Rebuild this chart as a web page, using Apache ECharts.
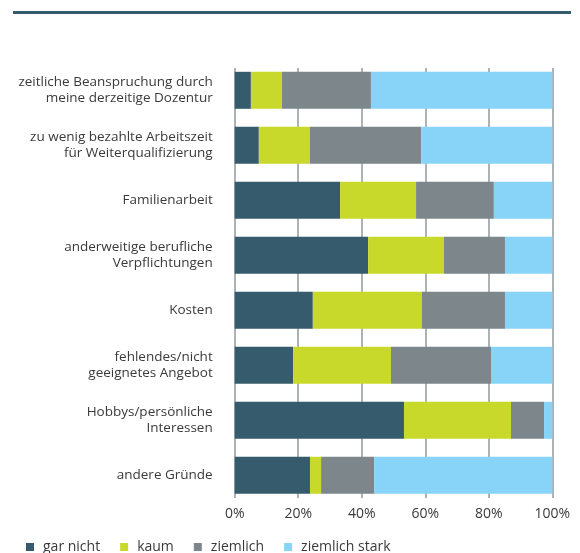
<!DOCTYPE html>
<html>
<head>
<meta charset="utf-8">
<script src="https://cdn.jsdelivr.net/npm/echarts@6/dist/echarts.min.js"></script>
<style>
  html, body { margin: 0; padding: 0; background: #ffffff; }
  #chart { width: 580px; height: 553px; }
</style>
</head>
<body>
<div id="chart"></div>
<script>
// Reasons, top to bottom
const categories = [
  'zeitliche Beanspruchung durch\nmeine derzeitige Dozentur',
  'zu wenig bezahlte Arbeitszeit\nfür Weiterqualifizierung',
  'Familienarbeit',
  'anderweitige berufliche\nVerpflichtungen',
  'Kosten',
  'fehlendes/nicht\ngeeignetes Angebot',
  'Hobbys/persönliche\nInteressen',
  'andere Gründe'
];

// Shares in percent per answer level
const garNicht      = [5.1, 7.6, 33.2, 42.0, 24.6, 18.4, 53.3, 23.7];
const kaum          = [9.8, 16.1, 23.9, 23.9, 34.3, 30.8, 33.7, 3.5];
const ziemlich      = [28.0, 35.0, 24.5, 19.2, 26.2, 31.5, 10.4, 16.7];
const ziemlichStark = [57.1, 41.3, 18.4, 14.9, 14.9, 19.3, 2.6, 56.1];

const seriesNames = ['gar nicht', 'kaum', 'ziemlich', 'ziemlich stark'];
const seriesData = [garNicht, kaum, ziemlich, ziemlichStark];
const colors = ['#365b6d', '#c8d92b', '#7d878b', '#87d4f8'];

const xTicks = [0, 20, 40, 60, 80, 100];

const textColor = '#3a3a3a';
const font = 'Open Sans';

const chart = echarts.init(document.getElementById('chart'), null, { renderer: 'canvas' });

chart.setOption({
  animation: false,
  color: colors,
  graphic: [{
    type: 'rect',
    shape: { x: 13, y: 11, width: 558, height: 3 },
    style: { fill: '#365b6d' },
    z: 10
  }],
  grid: [
    // bars
    { left: 234.7, right: 27.7, top: 62.8, height: 440, containLabel: false },
    // gridlines and percentage ticks
    { left: 234.7, right: 27.7, top: 68, height: 430, containLabel: false }
  ],
  xAxis: [
    {
      gridIndex: 0, type: 'value', min: 0, max: 100,
      show: false
    },
    {
      gridIndex: 1, type: 'value', min: 0, max: 100, interval: 20,
      axisLine: { show: false },
      axisTick: { show: false },
      splitLine: { show: true, lineStyle: { color: '#a3abae', width: 1.8 } },
      axisLabel: {
        margin: 9,
        color: textColor,
        fontFamily: font,
        fontSize: 14,
        formatter: v => xTicks.indexOf(v) >= 0 ? v + '%' : ''
      }
    }
  ],
  yAxis: [
    {
      gridIndex: 0, type: 'category', data: categories, inverse: true,
      axisLine: { show: false },
      axisTick: { show: false },
      splitLine: { show: false },
      axisLabel: {
        margin: 22,
        color: textColor,
        fontFamily: font,
        fontSize: 13.5,
        lineHeight: 16,
        align: 'right',
        padding: [2, 0, 0, 0]
      }
    },
    {
      gridIndex: 1, type: 'category', data: categories, inverse: true,
      show: false
    }
  ],
  legend: {
    left: 21,
    top: 535,
    icon: 'rect',
    itemWidth: 8,
    itemHeight: 8,
    itemGap: 20,
    textStyle: { color: textColor, fontFamily: font, fontSize: 14, padding: [0, 0, 0, 4] },
    data: seriesNames
  },
  series: seriesNames.map((name, i) => ({
    name,
    type: 'bar',
    stack: 'total',
    xAxisIndex: 0,
    yAxisIndex: 0,
    barWidth: 37,
    data: seriesData[i],
    itemStyle: { color: colors[i] },
    emphasis: { disabled: true }
  }))
});
</script>
</body>
</html>
